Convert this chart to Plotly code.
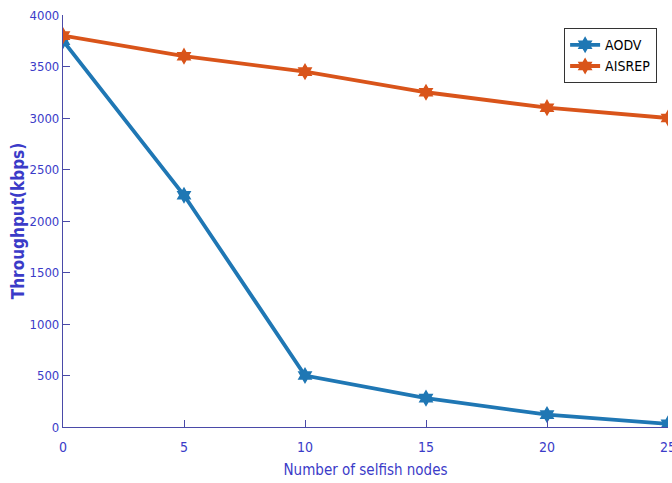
import plotly.graph_objects as go

# Throughput versus number of selfish nodes
selfish_nodes = [0, 5, 10, 15, 20, 25]
aodv_throughput = [3750, 2250, 500, 280, 120, 30]
aisrep_throughput = [3800, 3600, 3450, 3250, 3100, 3000]
y_ticks = [0, 500, 1000, 1500, 2000, 2500, 3000, 3500, 4000]
x_ticks = [0, 5, 10, 15, 20, 25]

FONT = "DejaVu Sans Condensed, Liberation Sans Narrow, Liberation Sans, sans-serif"
TICK_BLUE = "#3b3bc8"
AXIS_BLUE = "#4a4aa8"

fig = go.Figure()
fig.add_trace(go.Scatter(
    x=selfish_nodes, y=aodv_throughput, name="AODV",
    legendgroup="aodv",
    mode="lines+markers",
    line=dict(color="#1f77b4", width=3.8),
    marker=dict(symbol="hexagram", size=13, color="#1f77b4"),
))
fig.add_trace(go.Scatter(
    x=selfish_nodes, y=aisrep_throughput, name="AISREP",
    legendgroup="aisrep",
    mode="lines+markers",
    line=dict(color="#d9541a", width=3.8),
    marker=dict(symbol="hexagram", size=13, color="#d9541a"),
))

fig.update_layout(
    width=672, height=483,
    margin=dict(l=63, r=4, t=15, b=56),
    paper_bgcolor="white", plot_bgcolor="white",
    font=dict(family=FONT, color=TICK_BLUE, size=14),
    showlegend=True,
    legend=dict(
        x=0.982, y=0.968, xanchor="right", yanchor="top",
        bgcolor="white", bordercolor="#333333", borderwidth=1,
        font=dict(family=FONT, color="black", size=14),
        traceorder="grouped", tracegroupgap=0, itemwidth=30,
    ),
    xaxis=dict(
        range=[0, 25], tickvals=x_ticks,
        showgrid=False, zeroline=False,
        showline=True, linecolor=AXIS_BLUE, linewidth=1.2,
        ticks="inside", ticklen=7, tickcolor=AXIS_BLUE,
        tickfont=dict(family=FONT, color=TICK_BLUE, size=14),
        ticklabelstandoff=7,
        ticklabeloverflow="allow",
        title=dict(text="Number of selfish nodes", standoff=10,
                   font=dict(family=FONT, color=TICK_BLUE, size=15)),
        automargin=False,
    ),
    yaxis=dict(
        range=[0, 4000], tickvals=y_ticks,
        showgrid=False, zeroline=False,
        showline=True, linecolor=AXIS_BLUE, linewidth=1.2,
        ticks="inside", ticklen=7, tickcolor=AXIS_BLUE,
        tickfont=dict(family=FONT, color=TICK_BLUE, size=13),
        automargin=False,
    ),
    annotations=[dict(
        text="<b>Throughput(kbps)</b>", textangle=-90,
        xref="paper", yref="paper", x=-0.074, y=0.5,
        xanchor="center", yanchor="middle", showarrow=False,
        font=dict(family=FONT, color=TICK_BLUE, size=17),
    )],
)

fig.write_html("out.html")
